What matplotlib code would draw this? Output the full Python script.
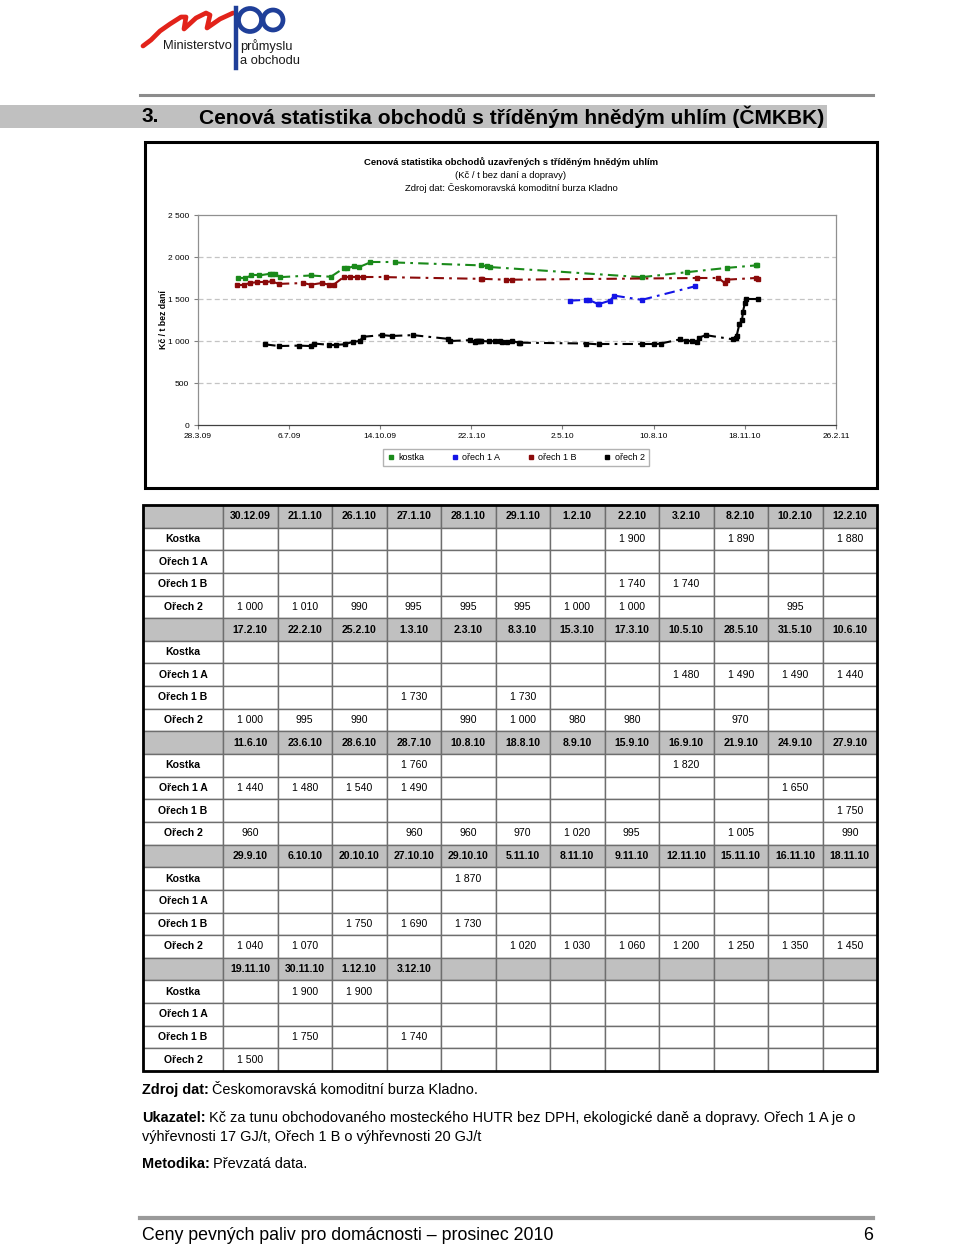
import datetime as dt
import matplotlib
matplotlib.use("Agg")
import matplotlib.pyplot as plt
from matplotlib.patches import Rectangle, Circle
from matplotlib.lines import Line2D

plt.rcParams['font.family'] = ['Liberation Sans', 'DejaVu Sans']

# ---- data (Kč / t bez daní) ----
kostka_dates = ['11.5.09', '19.5.09', '26.5.09', '3.6.09', '15.6.09', '18.6.09', '21.6.09', '26.6.09',
                '30.7.09', '21.8.09', '4.9.09', '8.9.09', '15.9.09', '21.9.09', '3.10.09', '30.10.09',
                '2.2.10', '8.2.10', '12.2.10', '28.7.10', '16.9.10', '29.10.10', '30.11.10', '1.12.10']
kostka_vals = [1750, 1750, 1780, 1780, 1800, 1800, 1800, 1760,
               1780, 1765, 1865, 1865, 1890, 1880, 1935, 1935,
               1900, 1890, 1880, 1760, 1820, 1870, 1900, 1900]

orech1a_dates = ['10.5.10', '28.5.10', '31.5.10', '10.6.10', '11.6.10', '23.6.10', '28.6.10', '28.7.10',
                 '24.9.10']
orech1a_vals = [1480, 1490, 1490, 1440, 1440, 1480, 1540, 1490, 1650]

orech1b_dates = ['10.5.09', '18.5.09', '24.5.09', '1.6.09', '10.6.09', '17.6.09', '25.6.09', '22.7.09',
                 '30.7.09', '11.8.09', '19.8.09', '24.8.09', '4.9.09', '11.9.09', '19.9.09', '25.9.09',
                 '21.10.09', '2.2.10', '3.2.10', '1.3.10', '8.3.10', '27.9.10', '20.10.10', '27.10.10',
                 '29.10.10', '30.11.10', '3.12.10']
orech1b_vals = [1670, 1670, 1690, 1700, 1700, 1710, 1680, 1690,
                1670, 1690, 1670, 1670, 1760, 1760, 1760, 1760,
                1760, 1740, 1740, 1730, 1730, 1750, 1750, 1690,
                1730, 1750, 1740]

orech2_dates = ['10.6.09', '25.6.09', '17.7.09', '30.7.09', '2.8.09', '19.8.09', '27.8.09', '5.9.09',
                '14.9.09', '22.9.09', '25.9.09', '16.10.09', '27.10.09', '19.11.09', '28.12.09',
                '30.12.09', '21.1.10', '26.1.10', '27.1.10', '28.1.10', '29.1.10', '1.2.10', '2.2.10',
                '10.2.10', '17.2.10', '22.2.10', '25.2.10', '2.3.10', '8.3.10', '15.3.10', '17.3.10',
                '28.5.10', '11.6.10', '28.7.10', '10.8.10', '18.8.10', '8.9.10', '15.9.10', '21.9.10',
                '27.9.10', '29.9.10', '6.10.10', '5.11.10', '8.11.10', '9.11.10', '12.11.10', '15.11.10',
                '16.11.10', '18.11.10', '19.11.10', '2.12.10']
orech2_vals = [960, 940, 945, 940, 970, 955, 955, 960,
               990, 1000, 1050, 1070, 1060, 1070, 1025,
               1000, 1010, 990, 995, 995, 995, 1000, 1000,
               995, 1000, 995, 990, 990, 1000, 980, 980,
               970, 960, 960, 960, 970, 1020, 995, 1005,
               990, 1040, 1070, 1020, 1030, 1060, 1200, 1250,
               1350, 1450, 1500, 1500]

table_dates = ['30.12.09', '21.1.10', '26.1.10', '27.1.10', '28.1.10', '29.1.10', '1.2.10', '2.2.10',
               '3.2.10', '8.2.10', '10.2.10', '12.2.10',
               '17.2.10', '22.2.10', '25.2.10', '1.3.10', '2.3.10', '8.3.10', '15.3.10', '17.3.10',
               '10.5.10', '28.5.10', '31.5.10', '10.6.10',
               '11.6.10', '23.6.10', '28.6.10', '28.7.10', '10.8.10', '18.8.10', '8.9.10', '15.9.10',
               '16.9.10', '21.9.10', '24.9.10', '27.9.10',
               '29.9.10', '6.10.10', '20.10.10', '27.10.10', '29.10.10', '5.11.10', '8.11.10', '9.11.10',
               '12.11.10', '15.11.10', '16.11.10', '18.11.10',
               '19.11.10', '30.11.10', '1.12.10', '3.12.10']

series_names = ['kostka', 'ořech 1 A', 'ořech 1 B', 'ořech 2']
row_labels = ['Kostka', 'Ořech 1 A', 'Ořech 1 B', 'Ořech 2']
series_dates = [kostka_dates, orech1a_dates, orech1b_dates, orech2_dates]
series_vals = [kostka_vals, orech1a_vals, orech1b_vals, orech2_vals]
colors = ['#1a8a1a', '#1414e6', '#8b0a0a', '#000000']


def to_date(s):
    return dt.datetime.strptime(s, '%d.%m.%y')


def fmt_num(v):
    return f"{v:,}".replace(",", " ")


W, H = 960, 1246
fig = plt.figure(figsize=(W / 100, H / 100), dpi=100)
bg = fig.add_axes([0, 0, 1, 1])
bg.set_xlim(0, W)
bg.set_ylim(H, 0)
bg.axis('off')

# ---- logo ----
bg.plot([143, 151, 160, 170, 181, 186, 184, 196, 206, 210, 207, 220, 233],
        [46, 40, 31, 24, 17, 17, 29, 18, 13, 15, 28, 19, 13], color='#e2231a', lw=3.4,
        solid_capstyle='round', solid_joinstyle='round')
bg.plot([236, 236], [8, 68], color='#1f3f99', lw=3.2)
bg.add_patch(Circle((250, 20), 11.5, fill=False, ec='#1f3f99', lw=3.4))
bg.add_patch(Circle((273, 20), 10, fill=False, ec='#1f3f99', lw=3.4))
logo_font = ['Liberation Sans Narrow', 'Liberation Sans', 'DejaVu Sans']
bg.text(163, 46, 'Ministerstvo', fontsize=9.3, family=logo_font, va='center', color='#1a1a1a')
bg.text(240, 46, 'průmyslu', fontsize=9.3, family=logo_font, va='center', color='#1a1a1a')
bg.text(240, 61, 'a obchodu', fontsize=9.3, family=logo_font, va='center', color='#1a1a1a')

# ---- section header ----
bg.plot([140, 873], [95, 95], color='#8c8c8c', lw=2.2)
bg.add_patch(Rectangle((0, 105), 827, 23, color='#c0c0c0', lw=0))
bg.text(142, 117, '3.', fontsize=15, fontweight='bold', va='center')
bg.text(199, 117, 'Cenová statistika obchodů s tříděným hnědým uhlím (ČMKBK)',
        fontsize=15.1, fontweight='bold', va='center')

# ---- chart frame ----
bg.add_patch(Rectangle((145, 142), 732, 346, fill=False, ec='black', lw=2.2))
bg.text(511, 162, 'Cenová statistika obchodů uzavřených s tříděným hnědým uhlím',
        fontsize=6.8, fontweight='bold', ha='center', va='center')
bg.text(511, 175, '(Kč / t bez daní a dopravy)', fontsize=6.8, ha='center', va='center')
bg.text(511, 188, 'Zdroj dat: Českomoravská komoditní burza Kladno', fontsize=6.8,
        ha='center', va='center')
bg.text(164, 320, 'Kč / t bez daní', fontsize=6.3, fontweight='bold', rotation=90,
        ha='center', va='center')

x_left, x_right, y_top, y_bot = 197.7, 836, 215, 425
ax = fig.add_axes([x_left / W, 1 - y_bot / H, (x_right - x_left) / W, (y_bot - y_top) / H])
start = dt.datetime(2009, 3, 28)
ax.set_xlim(start, start + dt.timedelta(days=700))
ax.set_ylim(0, 2500)
xt = [start + dt.timedelta(days=100 * k) for k in range(8)]
ax.set_xticks(xt)
ax.set_xticklabels([f"{d.day}.{d.month}.{d.strftime('%y')}" for d in xt], fontsize=6)
yt = list(range(0, 2501, 500))
ax.set_yticks(yt)
ax.set_yticklabels([fmt_num(v) for v in yt], fontsize=6)
for v in yt[1:-1]:
    ax.axhline(v, color='#c4c4c4', lw=0.9, ls=(0, (4, 2.5)), zorder=0)
for s in ax.spines.values():
    s.set_color('#909090')
    s.set_linewidth(0.9)
ax.spines['bottom'].set_color('#404040')
ax.tick_params(length=3, width=0.8, color='#808080', pad=3)

dash = (0, (5, 2.5, 1.3, 2.5))
for name, ds, vs, c in zip(series_names, series_dates, series_vals, colors):
    xs = [to_date(d) for d in ds]
    # Excel restarts the dash pattern on every segment
    for i in range(len(xs) - 1):
        ax.plot(xs[i:i + 2], vs[i:i + 2], color=c, lw=1.5, ls=dash, zorder=2)
    ax.plot(xs, vs, ls='none', marker='s', ms=2.6, color=c, zorder=3)

handles = [Line2D([], [], ls='none', marker='s', ms=3, color=c) for c in colors]
fig.legend(handles, series_names, loc='center', ncol=4,
           bbox_to_anchor=(516 / W, 1 - 457.5 / H), bbox_transform=fig.transFigure,
           fontsize=6.5, frameon=True, fancybox=False, edgecolor='#a0a0a0',
           handlelength=0.8, handletextpad=0.4, columnspacing=3.0, borderpad=0.45)

# ---- table ----
tx0, tx1, ty0, ty1 = 143, 877, 505, 1071
c0w = 80
cw = (tx1 - tx0 - c0w) / 12
rh = (ty1 - ty0) / 25
lookup = [dict(zip(ds, vs)) for ds, vs in zip(series_dates, series_vals)]
for b in range(5):
    block = table_dates[12 * b:12 * b + 12]
    for r in range(5):
        y = ty0 + (5 * b + r) * rh
        for c in range(13):
            x = tx0 if c == 0 else tx0 + c0w + (c - 1) * cw
            w = c0w if c == 0 else cw
            fc = '#c0c0c0' if r == 0 else 'white'
            bg.add_patch(Rectangle((x, y), w, rh, fc=fc, ec='#6e6e6e', lw=1.0))
            cx, cy = x + w / 2, y + rh / 2
            if r == 0:
                if 1 <= c <= len(block):
                    bg.text(cx, cy, block[c - 1], fontsize=7.6, fontweight='bold',
                            ha='center', va='center')
            elif c == 0:
                bg.text(cx, cy, row_labels[r - 1], fontsize=7.6, fontweight='bold',
                        ha='center', va='center')
            elif c <= len(block):
                v = lookup[r - 1].get(block[c - 1])
                if v is not None:
                    bg.text(cx, cy, fmt_num(v), fontsize=7.6, ha='center', va='center')
bg.add_patch(Rectangle((tx0, ty0), tx1 - tx0, ty1 - ty0, fill=False, ec='black', lw=2))

# ---- notes ----
fig.canvas.draw()
renderer = fig.canvas.get_renderer()


def bold_lead(x, y, lead, rest, size=10.45):
    t = bg.text(x, y, lead, fontsize=size, fontweight='bold', va='center')
    x1 = t.get_window_extent(renderer).x1
    bg.text(x1 + 3.5, y, rest, fontsize=size, va='center')


bold_lead(142, 1090, 'Zdroj dat:', 'Českomoravská komoditní burza Kladno.')
bold_lead(142, 1118, 'Ukazatel:', 'Kč za tunu obchodovaného mosteckého HUTR bez DPH, ekologické daně a '
                                  'dopravy. Ořech 1 A je o')
bg.text(142, 1137, 'výhřevnosti 17 GJ/t, Ořech 1 B o výhřevnosti 20 GJ/t', fontsize=10.45, va='center')
bold_lead(142, 1164, 'Metodika:', 'Převzatá data.')

# ---- footer ----
bg.plot([140, 873], [1218, 1218], color='#9a9a9a', lw=3)
bg.text(142, 1236, 'Ceny pevných paliv pro domácnosti – prosinec 2010', fontsize=12.8, va='center')
bg.text(873, 1236, '6', fontsize=12.8, va='center', ha='right')

fig.savefig('out.png', dpi=100)
